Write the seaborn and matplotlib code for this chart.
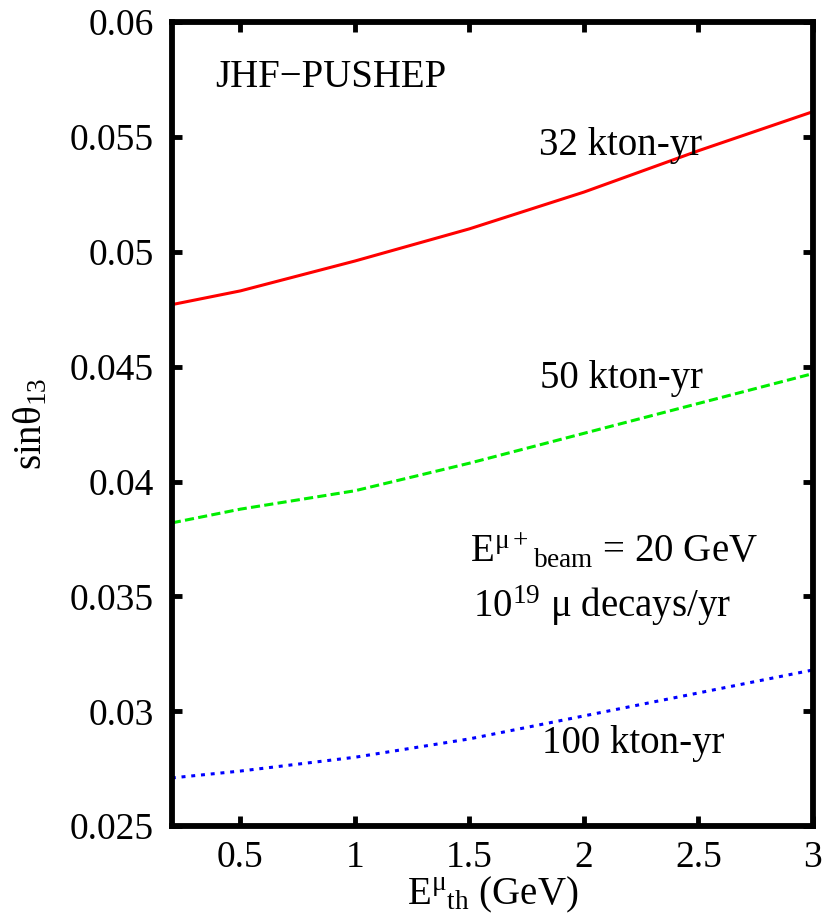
import numpy as np
import pandas as pd
import seaborn as sns
import matplotlib.pyplot as plt

# threshold energy (GeV) and sin(theta13) reach for each exposure
e_th = [0.2, 0.5, 1.0, 1.5, 2.0, 2.5, 3.0]
sin_32kt = [0.0477, 0.0483, 0.0496, 0.0510, 0.0526, 0.0544, 0.0561]
sin_50kt = [0.0382, 0.0388, 0.0396, 0.0408, 0.0421, 0.0434, 0.0447]
sin_100kt = [0.0271, 0.0274, 0.0280, 0.0288, 0.0298, 0.0308, 0.0318]

x_ticks = [0.5, 1, 1.5, 2, 2.5, 3]
x_ticklabels = ["0.5", "1", "1.5", "2", "2.5", "3"]
y_ticks = [0.025, 0.03, 0.035, 0.04, 0.045, 0.05, 0.055, 0.06]
y_ticklabels = ["0.025", "0.03", "0.035", "0.04", "0.045", "0.05", "0.055", "0.06"]

sns.set_theme(style="ticks")
plt.rcParams["font.family"] = "serif"
plt.rcParams["font.serif"] = ["Liberation Serif", "DejaVu Serif"]
plt.rcParams["mathtext.fontset"] = "custom"
plt.rcParams["mathtext.rm"] = "Liberation Serif"
plt.rcParams["mathtext.it"] = "Liberation Serif:italic"
plt.rcParams["text.color"] = "black"
plt.rcParams["axes.labelcolor"] = "black"

df = pd.DataFrame({"x": e_th, "a": sin_32kt, "b": sin_50kt, "c": sin_100kt})

fig = plt.figure(figsize=(8.22, 9.19), dpi=100)
ax = fig.add_axes([0.209, 0.101, 0.78, 0.875])

sns.lineplot(data=df, x="x", y="a", ax=ax, color="#ff0000", lw=2.2)
sns.lineplot(data=df, x="x", y="b", ax=ax, color="#00ee00", lw=2.2)
ax.lines[-1].set_dashes([3, 1.4])
sns.lineplot(data=df, x="x", y="c", ax=ax, color="#0000ff", lw=2.2)
ax.lines[-1].set_dashes([1.3, 1.9])

ax.set_xlim(0.2, 3)
ax.set_ylim(0.025, 0.06)
ax.set_xticks(x_ticks)
ax.set_xticklabels(x_ticklabels)
ax.set_yticks(y_ticks)
ax.set_yticklabels(y_ticklabels)
ax.tick_params(direction="in", length=7, width=3.5, labelsize=27, pad=10,
               top=True, right=True, colors="black")
ax.tick_params(axis="y", pad=13)
for s in ax.spines.values():
    s.set_linewidth(4.2)
    s.set_color("black")

ax.set_xlabel("E$^{\\mathrm{μ}}$$_{\\mathrm{th}}$ (GeV)", fontsize=28, labelpad=0)
ax.set_ylabel("sinθ$_{13}$", fontsize=28)
ax.yaxis.set_label_coords(-0.19, 0.5)

fs = 28
ax.text(0.388, 0.0576, "JHF\u2212PUSHEP", fontsize=fs, va="center")
ax.text(1.803, 0.0542, "32 kton-yr", fontsize=fs, va="baseline")
ax.text(1.807, 0.04407, "50 kton-yr", fontsize=fs, va="baseline")
ax.text(1.501, 0.03649, "E$^{\\mathrm{μ+}}$$_{\\mathrm{beam}}$ = 20 GeV", fontsize=fs, va="baseline")
ax.text(1.514, 0.0341, "10$^{19}$ μ decays/yr", fontsize=fs, va="baseline")
ax.text(1.816, 0.02818, "100 kton-yr", fontsize=fs, va="baseline")

fig.savefig("out.png", dpi=100)
